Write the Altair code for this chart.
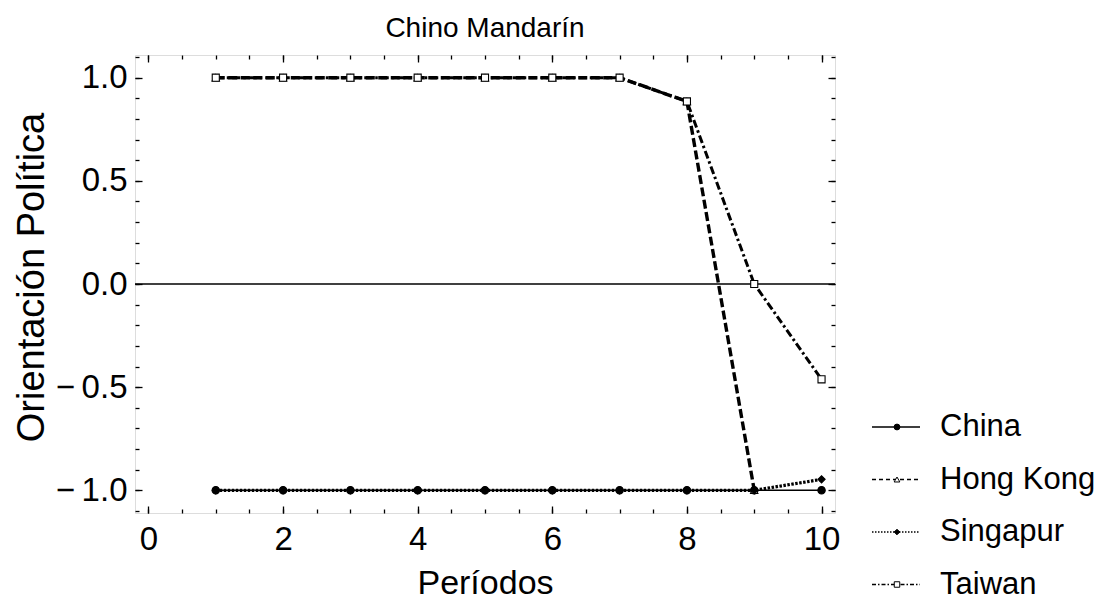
import altair as alt
import pandas as pd

# ---------------- data ----------------
periods = [1, 2, 3, 4, 5, 6, 7, 8, 9, 10]
china = [-1, -1, -1, -1, -1, -1, -1, -1, -1, -1]
hong_kong = [1, 1, 1, 1, 1, 1, 1, 0.885, -1, None]
singapur = [-1, -1, -1, -1, -1, -1, -1, -1, -1, -0.947]
taiwan = [1, 1, 1, 1, 1, 1, 1, 0.885, 0, -0.462]
countries = ["China", "Hong Kong", "Singapur", "Taiwan"]

x_major = [0, 2, 4, 6, 8, 10]
x_minor = [0, 0.5, 1, 1.5, 2, 2.5, 3, 3.5, 4, 4.5, 5, 5.5, 6, 6.5, 7, 7.5,
           8, 8.5, 9, 9.5, 10]
y_major = [-1.0, -0.5, 0.0, 0.5, 1.0]
y_minor = [-1.1, -1.0, -0.9, -0.8, -0.7, -0.6, -0.5, -0.4, -0.3, -0.2, -0.1,
           0.0, 0.1, 0.2, 0.3, 0.4, 0.5, 0.6, 0.7, 0.8, 0.9, 1.0, 1.1]
zero_line = [0]

series = {"China": china, "Hong Kong": hong_kong,
          "Singapur": singapur, "Taiwan": taiwan}
rows = []
for c in countries:
    for p, v in zip(periods, series[c]):
        if v is not None:
            rows.append({"period": p, "value": v, "country": c})
df = pd.DataFrame(rows)
df_zero = pd.DataFrame({"zero": zero_line})
df_leg = pd.DataFrame({"country": countries, "idx": list(range(len(countries)))})

# ---------------- styles ----------------
FONT = "Liberation Sans"
dashes = [[1, 0], [9, 3.5], [2.5, 1.5], [8, 3, 2.5, 3]]
widths = [1.6, 3.4, 3.2, 3.0]
shapes = ["circle", "triangle-up", "diamond", "square"]
fills = ["black", "white", "black", "white"]
sizes = [55, 50, 80, 50]
leg_dashes = [[1, 0], [4, 3], [1.5, 1.5], [4, 2, 1.5, 2]]
leg_sizes = [34, 30, 44, 30]

W, H = 700, 458
xs = alt.Scale(domain=[-0.2, 10.2], nice=False, zero=False)
ys = alt.Scale(domain=[-1.11, 1.11], nice=False, zero=False)


def tick_axis(orient, values, size):
    return alt.Axis(orient=orient, values=values, labels=False, domain=False,
                    grid=False, ticks=True, tickSize={"expr": str(-size)},
                    tickColor="black", tickWidth=1.3, title=None)


ax_x_lab = alt.Axis(orient="bottom", values=x_major, format="d",
                    labelFont=FONT, labelFontSize=33, labelColor="black",
                    labelPadding=10, ticks=False, tickSize=0, domain=False,
                    grid=False, title="Períodos", titleFont=FONT,
                    titleFontSize=34, titleFontWeight="normal",
                    titleColor="black", titlePadding=10)
ax_y_lab = alt.Axis(orient="left", values=y_major,
                    labelExpr="datum.value < 0 ? '\u2212\u2009' + format(-datum.value, '.1f') : format(datum.value, '.1f')",
                    labelFont=FONT, labelFontSize=33, labelColor="black",
                    labelPadding=8, ticks=False, tickSize=0, domain=False,
                    grid=False, title="Orientación Política", titleFont=FONT,
                    titleFontSize=38, titleFontWeight="normal",
                    titleColor="black", titleBaseline="middle",
                    titleX=-103, titleY=222)

zero_rule = alt.Chart(df_zero).mark_rule(color="black", strokeWidth=1.3).encode(
    y=alt.Y("zero:Q", scale=ys, axis=None)
)

line_layers = []
for i, c in enumerate(countries):
    ch = alt.Chart(df).transform_filter(alt.datum.country == c).mark_line(
        color="black", strokeWidth=widths[i], strokeDash=dashes[i]
    )
    if i == 0:
        ch = ch.encode(x=alt.X("period:Q", scale=xs, axis=ax_x_lab),
                       y=alt.Y("value:Q", scale=ys, axis=ax_y_lab))
    else:
        ch = ch.encode(x=alt.X("period:Q", scale=xs, axis=None),
                       y=alt.Y("value:Q", scale=ys, axis=None))
    line_layers.append(ch)

points = alt.Chart(df).mark_point(filled=True, opacity=1, stroke="black",
                                  strokeWidth=1.1).encode(
    x=alt.X("period:Q", scale=xs, axis=tick_axis("bottom", x_major, 7)),
    y=alt.Y("value:Q", scale=ys, axis=tick_axis("left", y_major, 7)),
    shape=alt.Shape("country:N", scale=alt.Scale(domain=countries, range=shapes), legend=None),
    fill=alt.Fill("country:N", scale=alt.Scale(domain=countries, range=fills), legend=None),
    size=alt.Size("country:N", scale=alt.Scale(domain=countries, range=sizes), legend=None),
)


def carrier(xax, yax):
    return alt.Chart(df).mark_point(opacity=0).encode(
        x=alt.X("period:Q", scale=xs, axis=xax),
        y=alt.Y("value:Q", scale=ys, axis=yax),
    )


c1 = carrier(tick_axis("bottom", x_minor, 4), tick_axis("left", y_minor, 4))
c2 = carrier(tick_axis("top", x_major, 7), tick_axis("right", y_major, 7))
c3 = carrier(tick_axis("top", x_minor, 4), tick_axis("right", y_minor, 4))

main = alt.layer(zero_rule, *line_layers, points, c1, c2, c3).resolve_axis(
    x="independent", y="independent")

# ---------------- legend ----------------
ly = alt.Y("idx:Q", scale=alt.Scale(domain=[0, 3], range=[372, 529.5]), axis=None)
leg_rule = alt.Chart(df_leg).mark_rule(color="black", strokeWidth=1.3).encode(
    x=alt.value(737), x2=alt.value(785), y=ly,
    strokeDash=alt.StrokeDash("country:N", scale=alt.Scale(domain=countries, range=leg_dashes), legend=None),
)
leg_pt = alt.Chart(df_leg).mark_point(filled=True, opacity=1, stroke="black",
                                      strokeWidth=1).encode(
    x=alt.value(762), y=ly,
    shape=alt.Shape("country:N", scale=alt.Scale(domain=countries, range=shapes), legend=None),
    fill=alt.Fill("country:N", scale=alt.Scale(domain=countries, range=fills), legend=None),
    size=alt.Size("country:N", scale=alt.Scale(domain=countries, range=leg_sizes), legend=None),
)
leg_txt = alt.Chart(df_leg).mark_text(align="left", baseline="middle",
                                      font=FONT, fontSize=31, color="black").encode(
    x=alt.value(805), y=ly, text="country:N",
)
legend = alt.layer(leg_rule, leg_pt, leg_txt)

chart = alt.layer(main, legend).resolve_scale(
    y="independent", strokeDash="independent", size="independent",
).properties(
    width=W, height=H,
    title=alt.TitleParams("Chino Mandarín", font=FONT, fontSize=28,
                          fontWeight="normal", color="black", anchor="middle",
                          offset=11),
    autosize=alt.AutoSizeParams(type="none"),
    padding={"left": 127, "top": 47, "right": 261, "bottom": 88},
).configure_view(stroke="black", strokeWidth=2).configure(background="white")

chart.save("out.html", embed_options={"renderer": "svg", "actions": False})
